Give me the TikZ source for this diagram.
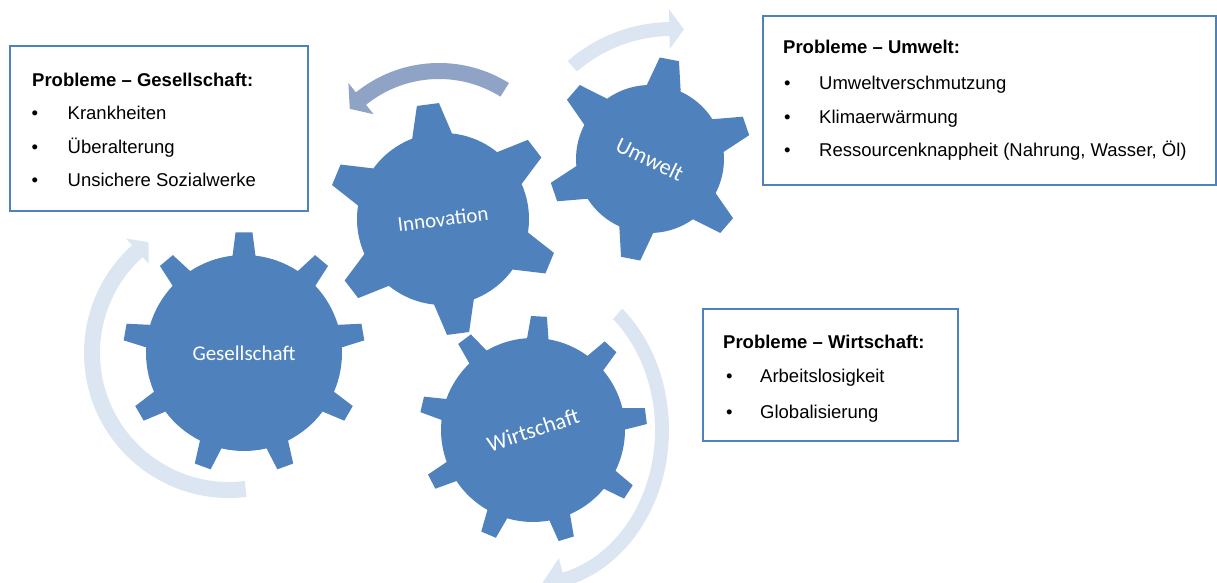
\documentclass[tikz,border=0pt]{standalone}
\usepackage{fontspec}
\setmainfont{Liberation Sans}
\newfontfamily\gearfont{Carlito}
\definecolor{gearblue}{HTML}{4F81BD}
\definecolor{arrowlight}{HTML}{DCE6F2}
\definecolor{arrowgrey}{HTML}{8EA3C5}
\tikzset{
  gearfill/.style={fill=gearblue},
  gearlabel/.style={font=\gearfont\fontsize{21}{25}\selectfont, text=white, inner sep=0pt},
  gearlabelbig/.style={font=\gearfont\fontsize{22.5}{26}\selectfont, text=white, inner sep=0pt},
  probox/.style={draw=gearblue, line width=2.4pt, fill=white, anchor=south west, inner sep=0pt},
  boxtitle/.style={font=\bfseries\fontsize{18.5}{22}\selectfont, anchor=base west, inner sep=0pt},
  boxitem/.style={font=\fontsize{18.5}{22}\selectfont, anchor=base west, inner sep=0pt},
  bulletmark/.style={font=\fontsize{18.5}{22}\selectfont, anchor=base west, inner sep=0pt},
  lightarrow/.style={fill=arrowlight},
  greyarrow/.style={fill=arrowgrey},
}
% gear: #1 center, #2 body radius, #3 tip radius, #4 teeth, #5 offset, #6 base half angle, #7 tip half angle
\newcommand\myGear[7]{%
  \pgfmathsetmacro\gstep{360/#4}%
  \begin{scope}[shift={(#1)}]
    \fill[gearfill] ({#5-#6}:#2)
      \foreach \k [evaluate=\k as \ga using {#5+(\k-1)*\gstep}] in {1,...,#4}{
        -- ({\ga-#7}:#3) -- ({\ga+#7}:#3) -- ({\ga+#6}:#2)
        arc[start angle={\ga+#6}, end angle={\ga+\gstep-#6}, radius=#2]
      } -- cycle;
  \end{scope}}
% circular arrow: #1 style, #2 center, #3 rx, #4 ry (mid line), #5 half thickness,
% #6 start angle, #7 head base angle, #8 tip angle, #9 head extra
\newcommand\myCircArrow[9]{%
  \pgfmathsetmacro\caoxr{#3+#5}\pgfmathsetmacro\caoyr{#4+#5}%
  \pgfmathsetmacro\caixr{#3-#5}\pgfmathsetmacro\caiyr{#4-#5}%
  \pgfmathsetmacro\caAx{(#3+#5)*cos(#6)}\pgfmathsetmacro\caAy{(#4+#5)*sin(#6)}%
  \pgfmathsetmacro\caBx{(#3+#5+#9)*cos(#7)}\pgfmathsetmacro\caBy{(#4+#5+#9)*sin(#7)}%
  \pgfmathsetmacro\caTx{#3*cos(#8)}\pgfmathsetmacro\caTy{#4*sin(#8)}%
  \pgfmathsetmacro\caCx{(#3-#5-#9)*cos(#7)}\pgfmathsetmacro\caCy{(#4-#5-#9)*sin(#7)}%
  \pgfmathsetmacro\caDx{(#3-#5)*cos(#7)}\pgfmathsetmacro\caDy{(#4-#5)*sin(#7)}%
  \begin{scope}[shift={(#2)}]
    \fill[#1] (\caAx,\caAy)
      arc[start angle=#6, end angle=#7, x radius=\caoxr, y radius=\caoyr]
      -- (\caBx,\caBy) -- (\caTx,\caTy) -- (\caCx,\caCy) -- (\caDx,\caDy)
      arc[start angle=#7, end angle=#6, x radius=\caixr, y radius=\caiyr] -- cycle;
  \end{scope}}
\begin{document}
\begin{tikzpicture}[x=1pt,y=1pt]
\useasboundingbox (0,0) rectangle (1217,583);
\clip (0,0) rectangle (1217,583);
% centres
\coordinate (cGes) at (244,230);
\coordinate (cInn) at (443,364);
\coordinate (cUmw) at (650,424);
\coordinate (cWir) at (533,153);
\coordinate (aGes) at (229,230);
\coordinate (aInn) at (439,388);
\coordinate (aUmw) at (672,402);
% arrows
\myCircArrow{lightarrow}{aGes}{137}{137}{8}{277}{132}{126}{9}
\myCircArrow{greyarrow}{aInn}{124}{124}{8}{58}{129}{136}{12}
\myCircArrow{lightarrow}{aUmw}{152}{152}{7}{131}{91}{85.5}{13}
\myCircArrow{lightarrow}{cWir}{129}{154}{7}{49}{-76}{-86}{15}
% gears
\myGear{cGes}{98}{121}{9}{10}{6.7}{4}
\myGear{cWir}{92}{114}{9}{7}{6.7}{4}
\myGear{cInn}{86}{116}{6}{37.5}{13.5}{5.5}
\myGear{cUmw}{74}{102}{6}{19}{13.5}{5.5}
% gear labels
\node[gearlabel] (lGes) at (cGes) {Gesellschaft};
\node[gearlabel, rotate=7] (lInn) at (cInn) {Innovation};
\node[gearlabelbig, rotate=-26] (lUmw) at (cUmw) {Umwelt};
\node[gearlabelbig, rotate=18] (lWir) at (cWir) {Wirtschaft};
% box Gesellschaft
\node[probox, minimum width=298pt, minimum height=165pt] (boxG) at (9,371) {};
\node[boxtitle] (tG) at (32,496.3) {Probleme – Gesellschaft:};
\node[bulletmark] (bG1) at (31.5,463) {•};
\node[bulletmark] (bG2) at (31.5,429.7) {•};
\node[bulletmark] (bG3) at (31.5,396.3) {•};
\node[boxitem] (iG1) at (67.5,463) {Krankheiten};
\node[boxitem] (iG2) at (67.5,429.7) {Überalterung};
\node[boxitem] (iG3) at (67.5,396.3) {Unsichere Sozialwerke};
% box Umwelt
\node[probox, minimum width=453pt, minimum height=169pt] (boxU) at (762,397) {};
\node[boxtitle] (tU) at (783,529.7) {Probleme – Umwelt:};
\node[bulletmark] (bU1) at (784,493) {•};
\node[bulletmark] (bU2) at (784,459.7) {•};
\node[bulletmark] (bU3) at (784,426.3) {•};
\node[boxitem] (iU1) at (819,493) {Umweltverschmutzung};
\node[boxitem] (iU2) at (819,459.7) {Klimaerwärmung};
\node[boxitem] (iU3) at (819,426.3) {Ressourcenknappheit (Nahrung, Wasser, Öl)};
% box Wirtschaft
\node[probox, minimum width=255pt, minimum height=132pt] (boxW) at (702,141) {};
\node[boxtitle] (tW) at (723,234.7) {Probleme – Wirtschaft:};
\node[bulletmark] (bW1) at (726,200.3) {•};
\node[bulletmark] (bW2) at (726,164.7) {•};
\node[boxitem] (iW1) at (760,200.3) {Arbeitslosigkeit};
\node[boxitem] (iW2) at (760,164.7) {Globalisierung};
\end{tikzpicture}
\end{document}
